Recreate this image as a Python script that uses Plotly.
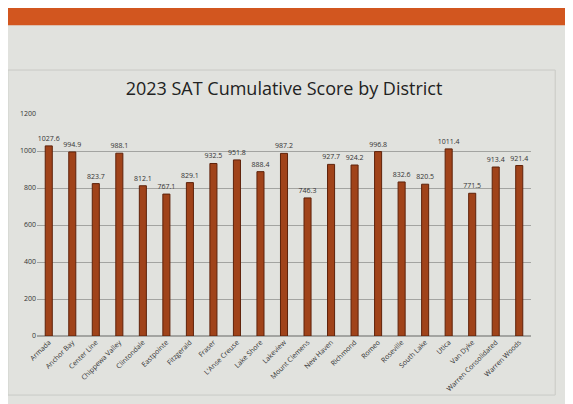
import plotly.graph_objects as go

districts = ["Armada", "Anchor Bay", "Center Line", "Chippewa Valley", "Clintondale",
             "Eastpointe", "Fitzgerald", "Fraser", "L'Anse Creuse", "Lake Shore",
             "Lakeview", "Mount Clemens", "New Haven", "Richmond", "Romeo",
             "Roseville", "South Lake", "Utica", "Van Dyke", "Warren Consolidated",
             "Warren Woods"]
scores = [1027.6, 994.9, 823.7, 988.1, 812.1, 767.1, 829.1, 932.5, 951.8, 888.4,
          987.2, 746.3, 927.7, 924.2, 996.8, 832.6, 820.5, 1011.4, 771.5, 913.4, 921.4]
y_ticks = [0, 200, 400, 600, 800, 1000, 1200]

fig = go.Figure(go.Bar(
    x=districts, y=scores,
    marker=dict(color="#a0431a", line=dict(color="#5e220a", width=1)),
    text=[f"{v:.1f}" for v in scores], textposition="outside", constraintext="none",
    textfont=dict(size=7, color="#333333"), cliponaxis=False,
))

fig.update_layout(
    width=573, height=404,
    margin=dict(l=29, r=50, t=106, b=76, autoexpand=False),
    paper_bgcolor="#e1e2de", plot_bgcolor="#e1e2de",
    font=dict(family="Open Sans, sans-serif", color="#333333"),
    title=dict(text="2023 SAT Cumulative Score by District", x=0.5, xref="paper",
               xanchor="center", y=0.80, yanchor="middle",
               font=dict(size=18, color="#222222")),
    bargap=0.7, showlegend=False,
)
fig.add_shape(type="rect", xref="paper", yref="paper", x0=-0.059, x1=1.049, y0=-0.266, y1=1.198,
              line=dict(color="#c9cac6", width=1), fillcolor="rgba(0,0,0,0)", layer="below")
fig.add_shape(type="rect", xref="paper", yref="paper", x0=-0.1, x1=1.2, y0=1.40, y1=1.6,
              fillcolor="#d2561f", line=dict(width=0), layer="below")
fig.update_yaxes(range=[0, 1200], tickvals=y_ticks, showgrid=True, gridcolor="#a3a4a1",
                 gridwidth=1, zeroline=True, zerolinecolor="#a3a4a1", showline=False,
                 tickfont=dict(size=7, color="#333333"), ticks="", automargin=False)
fig.update_xaxes(tickangle=-45, tickfont=dict(size=7, color="#333333"), showline=False,
                 ticks="", automargin=False)

fig.write_html("out.html")
